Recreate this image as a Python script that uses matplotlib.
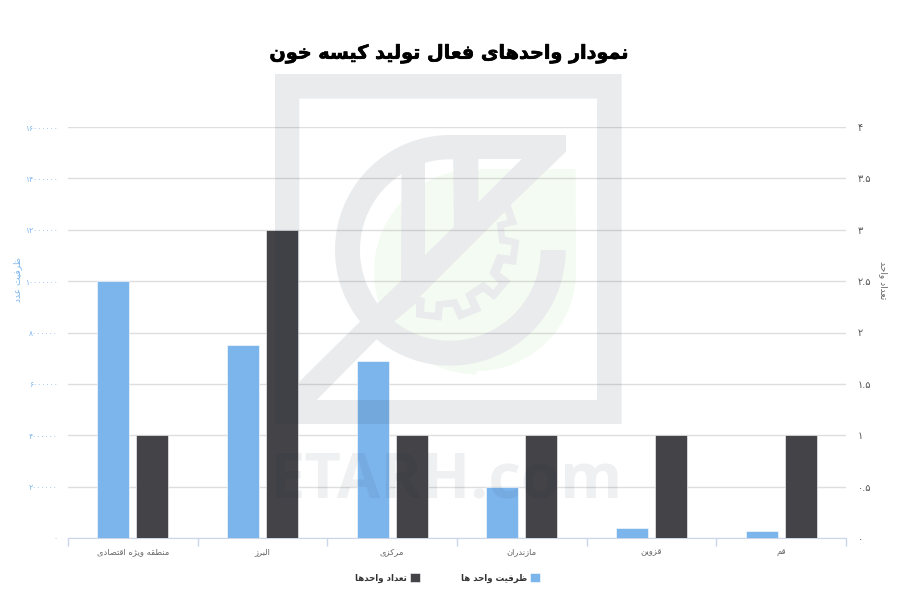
import numpy as np
import matplotlib
matplotlib.use('Agg')
import matplotlib.pyplot as plt
import matplotlib.patheffects as pe
from matplotlib.path import Path
from matplotlib.patches import PathPatch

# data
categories = ['منطقه ویژه اقتصادی', 'البرز', 'مرکزی', 'مازندران', 'قزوین', 'قم']
capacity = [10000000, 7500000, 6900000, 2000000, 400000, 280000]
units = [1, 3, 1, 1, 1, 1]
capacity_ticks = [0, 2000000, 4000000, 6000000, 8000000, 10000000, 12000000, 14000000, 16000000]
units_ticks = [0, 0.5, 1, 1.5, 2, 2.5, 3, 3.5, 4]

title = 'نمودار واحدهای فعال تولید کیسه خون'
capacity_title = 'ظرفیت عدد'
units_title = 'تعداد واحد'
capacity_label = 'ظرفیت واحد ها'
units_label = 'تعداد واحدها'

BLUE = '#7cb5ec'
DARK = '#434348'

plt.rcParams['font.family'] = ['DejaVu Sans']

# matplotlib does not join arabic letters, so map them to presentation forms
# (isolated, final, initial, medial)
FORMS = {
    'ا': (0xFE8D, 0xFE8E), 'آ': (0xFE81, 0xFE82), 'د': (0xFEA9, 0xFEAA), 'ذ': (0xFEAB, 0xFEAC),
    'ر': (0xFEAD, 0xFEAE), 'ز': (0xFEAF, 0xFEB0), 'ژ': (0xFB8A, 0xFB8B), 'و': (0xFEED, 0xFEEE),
    'ب': (0xFE8F, 0xFE90, 0xFE91, 0xFE92), 'پ': (0xFB56, 0xFB57, 0xFB58, 0xFB59),
    'ت': (0xFE95, 0xFE96, 0xFE97, 0xFE98), 'ج': (0xFE9D, 0xFE9E, 0xFE9F, 0xFEA0),
    'ح': (0xFEA1, 0xFEA2, 0xFEA3, 0xFEA4), 'خ': (0xFEA5, 0xFEA6, 0xFEA7, 0xFEA8),
    'س': (0xFEB1, 0xFEB2, 0xFEB3, 0xFEB4), 'ص': (0xFEB9, 0xFEBA, 0xFEBB, 0xFEBC),
    'ط': (0xFEC1, 0xFEC2, 0xFEC3, 0xFEC4), 'ظ': (0xFEC5, 0xFEC6, 0xFEC7, 0xFEC8),
    'ع': (0xFEC9, 0xFECA, 0xFECB, 0xFECC), 'ف': (0xFED1, 0xFED2, 0xFED3, 0xFED4),
    'ق': (0xFED5, 0xFED6, 0xFED7, 0xFED8), 'ک': (0xFB8E, 0xFB8F, 0xFB90, 0xFB91),
    'ل': (0xFEDD, 0xFEDE, 0xFEDF, 0xFEE0), 'م': (0xFEE1, 0xFEE2, 0xFEE3, 0xFEE4),
    'ن': (0xFEE5, 0xFEE6, 0xFEE7, 0xFEE8), 'ه': (0xFEE9, 0xFEEA, 0xFEEB, 0xFEEC),
    'ی': (0xFBFC, 0xFBFD, 0xFBFE, 0xFBFF),
}


def shape(text):
    out = []
    for i, c in enumerate(text):
        if c not in FORMS:
            out.append(c)
            continue
        prev = text[i - 1] if i > 0 else ' '
        nxt = text[i + 1] if i + 1 < len(text) else ' '
        joins_prev = prev in FORMS and len(FORMS[prev]) == 4
        joins_next = nxt in FORMS and len(FORMS[c]) == 4
        idx = {(False, False): 0, (True, False): 1, (False, True): 2, (True, True): 3}[(joins_prev, joins_next)]
        out.append(chr(FORMS[c][idx]))
    return ''.join(out)[::-1]


def fa_number(v):
    s = ('%g' % v) if v < 100 else '%d' % v
    return s.translate(str.maketrans('0123456789', '۰۱۲۳۴۵۶۷۸۹'))


fig = plt.figure(figsize=(9, 6), dpi=100)
ax = fig.add_axes([68 / 900, (600 - 538) / 600, 778 / 900, 411 / 600])
ax2 = ax.twinx()

x = np.arange(len(categories))
bar_w = 0.245
ax.bar(x - 0.15, capacity, bar_w, color=BLUE, edgecolor='white', linewidth=0.4, label=shape(capacity_label), zorder=3)
ax2.bar(x + 0.15, units, bar_w, color=DARK, edgecolor='white', linewidth=0.4, label=shape(units_label), zorder=3)

ax.set_xlim(-0.5, len(categories) - 0.5)
ax.set_ylim(0, capacity_ticks[-1])
ax2.set_ylim(0, units_ticks[-1])

ax.set_yticks(capacity_ticks)
ax.set_yticklabels([fa_number(v) for v in capacity_ticks], fontsize=5.5, color=BLUE)
ax2.set_yticks(units_ticks)
ax2.set_yticklabels([fa_number(v) for v in units_ticks], fontsize=7, color='#555555')
ax.tick_params(axis='y', length=0, pad=7.5)
ax2.tick_params(axis='y', length=0, pad=8.5)
ax.grid(axis='y', color='#dedede', linewidth=1)
ax.set_axisbelow(True)

ax.set_xticks(np.arange(len(categories) + 1) - 0.5)
ax.set_xticklabels([])
ax.set_xticks(x, minor=True)
ax.set_xticklabels([shape(c) for c in categories], minor=True, fontsize=6, color='#666666')
ax.tick_params(axis='x', which='major', length=5.5, width=1, color='#ccd6eb')
ax.tick_params(axis='x', which='minor', length=0, pad=6.5)

for a in (ax, ax2):
    for s in a.spines.values():
        s.set_visible(False)
ax.spines['bottom'].set_visible(True)
ax.spines['bottom'].set_color('#ccd6eb')

ax.set_zorder(1)
ax2.set_zorder(2)
ax2.patch.set_visible(False)

fig.text(18 / 900, 1 - 280 / 600, shape(capacity_title), rotation=90, color=BLUE, fontsize=6.5, ha='center', va='center')
fig.text(883 / 900, 1 - 280 / 600, shape(units_title), rotation=270, color='#666666', fontsize=6.5, ha='center', va='center')
fig.text(449 / 900, 1 - 54 / 600, shape(title), fontsize=13.8, fontweight='bold', color='black', ha='center', va='center',
         path_effects=[pe.withStroke(linewidth=0.5, foreground='black')])

h1, l1 = ax.get_legend_handles_labels()
h2, l2 = ax2.get_legend_handles_labels()
leg = fig.legend(h2 + h1, l2 + l1, ncol=2, markerfirst=False, frameon=False, loc='center',
                 bbox_to_anchor=(447.5 / 900, 1 - 578 / 600), handlelength=1.1, handleheight=1.1,
                 handletextpad=0.35, columnspacing=4.8, prop={'size': 6.2, 'weight': 'bold'})
for t in leg.get_texts():
    t.set_color('#333333')

# watermark sits on top of the chart, traced in pixels of a 3x crop at (270, 70)
over = fig.add_axes([0, 0, 1, 1], zorder=5)
over.set_xlim(0, 900)
over.set_ylim(600, 0)
over.axis('off')


def px(points):
    p = np.asarray(points, dtype=float)
    return np.column_stack([270 + p[:, 0] / 3, 70 + p[:, 1] / 3])


def arc(cx, cy, r, a0, a1, n=60):
    t = np.radians(np.linspace(a0, a1, n))
    return np.column_stack([cx + r * np.cos(t), cy - r * np.sin(t)])


def ring(points, positive):
    p = px(points)
    area = 0.5 * np.sum(p[:, 0] * np.roll(p[:, 1], -1) - np.roll(p[:, 0], -1) * p[:, 1])
    if (area > 0) != positive:
        p = p[::-1]
    return p


def compound(rings):
    # first entry of each pair is the outline, holes run the other way round
    verts, codes = [], []
    for pts, positive in rings:
        p = ring(pts, positive)
        verts += list(p) + [p[0]]
        codes += [Path.MOVETO] + [Path.LINETO] * (len(p) - 1) + [Path.CLOSEPOLY]
    return Path(np.array(verts), codes)


outer = [[15, 12], [1055, 12], [1055, 1062], [15, 1062]]
gear_out = [[438, 700], [438, 742], [515, 752], [518, 712], [548, 710], [566, 750], [635, 722], [615, 680],
            [640, 665], [673, 690], [722, 632], [690, 608], [700, 580], [738, 585], [748, 510], [705, 500],
            [702, 473], [742, 463], [722, 405]]
gear_in = [[450, 680], [465, 685], [462, 725], [495, 728], [497, 695], [560, 687], [577, 722], [603, 712],
           [585, 672], [640, 635], [670, 660], [685, 640], [658, 610], [682, 552], [720, 557], [725, 525],
           [688, 520], [680, 458], [712, 450], [705, 425]]
main_hole = np.vstack([
    [[88, 86], [981, 86], [981, 990], [140, 990]],
    arc(540, 540, 347, 230.6, 360),
    arc(540, 540, 272, 360, 232),
    gear_out,
    [[888, 245], [888, 195], [540, 195]],
    arc(540, 540, 345, 90, 218.5),
    [[88, 935]],
])
left_hole = np.vstack([arc(540, 540, 270, 122.6, 216.4), [[393, 632]]])
mid_hole = np.vstack([arc(540, 540, 272, 106, 88), [[552, 470], [465, 555]]])
tri_hole = [[625, 267], [755, 267], [625, 397]]
holes = [main_hole, gear_in, left_hole, mid_hole, tri_hole]

# pale green leaf, only seen through the holes of the logo
leaf = np.vstack([[[917, 297]], arc(620, 605, 308, 90, 270), arc(620, 605, 298, 270, 360)])
leaf_patch = over.add_patch(PathPatch(Path(px(leaf)), facecolor='#37bc05', edgecolor='none', alpha=0.05))
leaf_patch.set_clip_path(compound([(h, True) for h in holes]), over.transData)

logo = compound([(outer, True)] + [(h, False) for h in holes])
over.add_patch(PathPatch(logo, facecolor='#223344', edgecolor='none', alpha=0.095))

over.text(446, 498, 'ETARH.com', fontsize=45.5, fontweight='bold', family='Open Sans', color='#223344', alpha=0.07,
          ha='center', va='baseline')

fig.savefig('out.png', dpi=100)
